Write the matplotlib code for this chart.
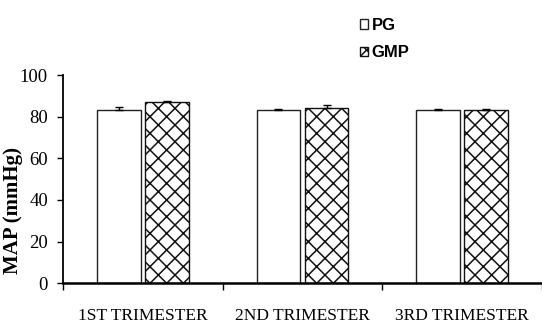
import matplotlib
matplotlib.use("Agg")
import matplotlib.pyplot as plt
import numpy as np

# data
categories = ["1ST TRIMESTER", "2ND TRIMESTER", "3RD TRIMESTER"]
pg_vals = [83.0, 83.0, 83.0]
pg_err = [1.4, 0.6, 0.7]
gmp_vals = [87.0, 84.0, 83.0]
gmp_err = [0.6, 1.6, 0.7]
yticks = [0, 20, 40, 60, 80, 100]

serif = ["Liberation Serif", "DejaVu Serif"]
narrow = ["Liberation Sans Narrow", "Liberation Sans", "DejaVu Sans"]

plt.rcParams["hatch.linewidth"] = 1.1

fig = plt.figure(figsize=(5.42, 3.27), dpi=100)
ax = fig.add_axes([63.3 / 542, 43.7 / 327, (542 - 63.3) / 542, 208.3 / 327])

x = np.arange(len(categories)) + 0.5
w = 0.272
ax.bar(x - 0.152, pg_vals, w, yerr=[np.zeros(3), pg_err], color="white",
       edgecolor="#222222", linewidth=1.0, label="PG",
       error_kw=dict(ecolor="black", elinewidth=1, capsize=3, capthick=1))
ax.bar(x + 0.150, gmp_vals, w, yerr=[np.zeros(3), gmp_err], color="white",
       edgecolor="#111111", linewidth=1.0, hatch="xx", label="GMP",
       error_kw=dict(ecolor="black", elinewidth=1, capsize=3, capthick=1))

ax.set_xlim(0, (542 - 63.3) / 161.1)
ax.set_ylim(0, 100)
ax.set_yticks(yticks)
ax.set_yticklabels([str(v) for v in yticks], family=serif, fontsize=13.5)

ax.set_xticks([0, 1, 2, 3])
ax.set_xticklabels([])
ax.set_xticks(x, minor=True)
ax.set_xticklabels(categories, minor=True, family=serif, fontsize=12.5)
ax.tick_params(axis="x", which="major", direction="out", length=5, width=1)
ax.tick_params(axis="x", which="minor", length=0, pad=18)
ax.tick_params(axis="y", direction="out", length=4, width=1, pad=7)

for s in ["top", "right"]:
    ax.spines[s].set_visible(False)
ax.spines["left"].set_linewidth(1.3)
ax.spines["bottom"].set_linewidth(1.8)

ax.set_ylabel("MAP (mmHg)", family=serif, fontsize=15, fontweight="bold")
ax.yaxis.set_label_coords(-0.085, 0.35)

leg = fig.legend(loc="upper left", bbox_to_anchor=(345 / 542, 1 - 3 / 327),
                 frameon=False, handlelength=0.5, handleheight=0.5,
                 handletextpad=0.2, labelspacing=0.75,
                 prop=dict(family=narrow, weight="bold", size=12))

fig.savefig("out.png", dpi=100)
